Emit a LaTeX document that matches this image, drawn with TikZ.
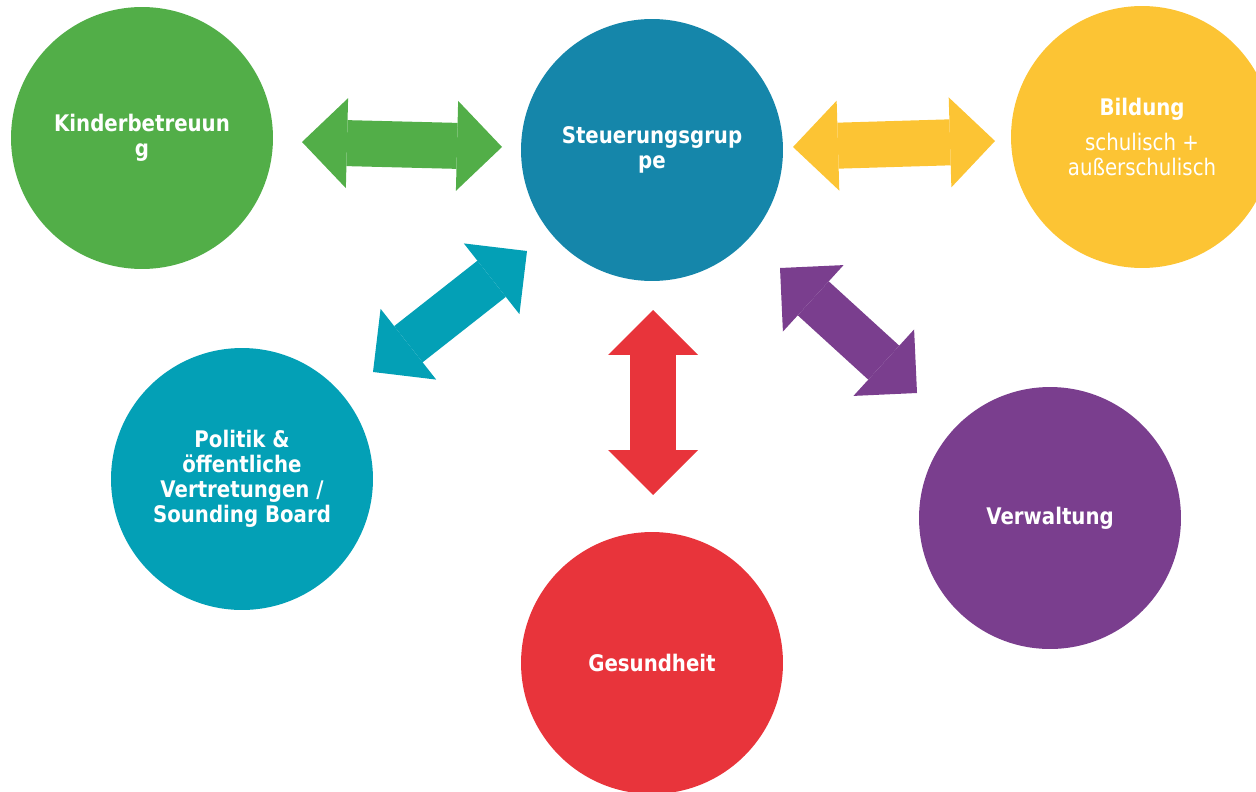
\documentclass[tikz,border=0pt]{standalone}
\usepackage{fontspec}
\setmainfont{DejaVu Sans}[FakeStretch=0.865]
\usetikzlibrary{arrows.meta}
\definecolor{kigreen}{RGB}{82,174,72}
\definecolor{stblue}{RGB}{21,134,170}
\definecolor{biyellow}{RGB}{252,196,52}
\definecolor{poteal}{RGB}{3,160,182}
\definecolor{gered}{RGB}{232,52,59}
\definecolor{vepurple}{RGB}{122,62,142}

\begin{document}
\begin{tikzpicture}[x=0.02cm,y=-0.02cm,
  >={Triangle[length=0.9cm,width=1.8cm,line width=0pt]},
  bubble/.style={circle,minimum size=5.24cm,inner sep=0pt,text=white,
    align=center,font=\fontsize{13}{14.2}\selectfont\bfseries},
  dblarrow/.style={line width=0.92cm,<->}]
  \clip (0,0) rectangle (1256,791);

  % circles
  \node[bubble,fill=kigreen]  (kinder) at (142,138) {Kinderbetreuun\\g};
  \node[bubble,fill=stblue]   (steuer) at (652,150) {Steuerungsgrup\\pe};
  \node[bubble,fill=biyellow] (bildung) at (1142,137)
    {Bildung\\[5.7pt]\mdseries schulisch +\\\mdseries außerschulisch};
  \node[bubble,fill=poteal]   (politik) at (242,479)
    {Politik \&\\öffentliche\\Vertretungen /\\Sounding Board};
  \node[bubble,fill=gered]    (gesund) at (652,663) {Gesundheit};
  \node[bubble,fill=vepurple] (verwalt) at (1050,518) {Verwaltung};

  % arrow ends
  \coordinate (kiA) at (302,142);  \coordinate (kiB) at (502,147);
  \coordinate (biA) at (793,147);  \coordinate (biB) at (995,141);
  \coordinate (poA) at (373,372);  \coordinate (poB) at (527,251);
  \coordinate (geA) at (653,310);  \coordinate (geB) at (653,495);
  \coordinate (veA) at (780,268);  \coordinate (veB) at (917,393);

  % double arrows
  \draw[dblarrow,kigreen]  (kiA) -- (kiB);
  \draw[dblarrow,biyellow] (biA) -- (biB);
  \draw[dblarrow,poteal]   (poA) -- (poB);
  \draw[dblarrow,gered]    (geA) -- (geB);
  \draw[dblarrow,vepurple] (veA) -- (veB);
\end{tikzpicture}
\end{document}
